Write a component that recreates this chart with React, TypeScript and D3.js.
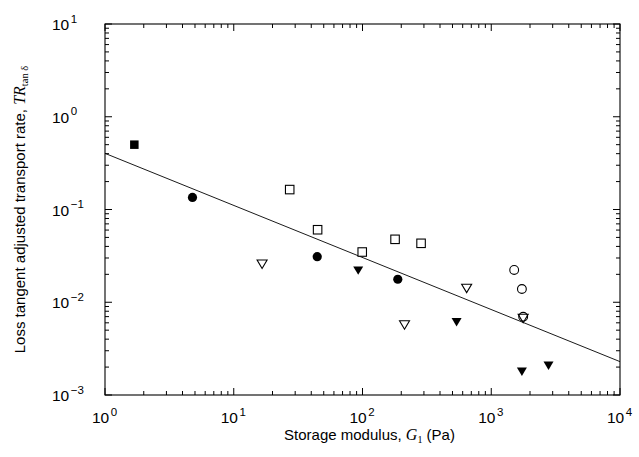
import React from "react";
import * as d3 from "d3";

// ---- data ----
const filledSquareG = [1.69];
const filledSquareTR = [0.5];
const filledCircleG = [4.78, 44.5, 188];
const filledCircleTR = [0.135, 0.031, 0.0177];
const openSquareG = [27.2, 44.8, 99.5, 179, 285];
const openSquareTR = [0.164, 0.0605, 0.0348, 0.0477, 0.0432];
const openTriangleG = [16.6, 212, 644, 1770];
const openTriangleTR = [0.0257, 0.00569, 0.0141, 0.00668];
const filledTriangleG = [92.6, 538, 1730, 2785];
const filledTriangleTR = [0.0219, 0.00608, 0.00178, 0.00207];
const openCircleG = [1507, 1730, 1770];
const openCircleTR = [0.0223, 0.0139, 0.00698];
const fitG = [1, 10000];
const fitTR = [0.403, 0.00229];
const xDecades = [0, 1, 2, 3, 4];
const yDecades = [-3, -2, -1, 0, 1];

const W = 639;
const H = 457;
const left = 105;
const right = 620;
const top = 24;
const bottom = 395;

export default function App() {
  const x = d3.scaleLog().domain([1, 1e4]).range([left, right]);
  const y = d3.scaleLog().domain([1e-3, 1e1]).range([bottom, top]);

  const minorX: number[] = [];
  for (let d = 0; d < 4; d++) for (let k = 2; k <= 9; k++) minorX.push(k * Math.pow(10, d));
  const minorY: number[] = [];
  for (let d = -3; d < 1; d++) for (let k = 2; k <= 9; k++) minorY.push(k * Math.pow(10, d));

  const MAJ = 7;
  const MIN = 4;
  const line = d3
    .line<number>()
    .x((_, i) => x(fitG[i]))
    .y((v) => y(v));

  const sq = 8.5;
  const tri = (cx: number, cy: number) => {
    const w = 5;
    const h = 4.2;
    return `M${cx - w},${cy - h}L${cx + w},${cy - h}L${cx},${cy + h}Z`;
  };

  const sans = "'Liberation Sans', Arial, sans-serif";
  const serif = "'Liberation Serif', 'DejaVu Serif', serif";

  return (
    <svg width={W} height={H} style={{ position: "absolute", left: 0, top: 0, background: "#fff" }}>
      <rect x={0} y={0} width={W} height={H} fill="#fff" />
      {/* frame */}
      <rect x={left} y={top} width={right - left} height={bottom - top} fill="none" stroke="#000" strokeWidth={1.1} />
      {/* x ticks */}
      {xDecades.map((d) => {
        const px = x(Math.pow(10, d));
        return (
          <g key={"xM" + d}>
            <line x1={px} x2={px} y1={bottom} y2={bottom - MAJ} stroke="#000" />
            <line x1={px} x2={px} y1={top} y2={top + MAJ} stroke="#000" />
          </g>
        );
      })}
      {minorX.map((v, i) => {
        const px = x(v);
        return (
          <g key={"xm" + i}>
            <line x1={px} x2={px} y1={bottom} y2={bottom - MIN} stroke="#000" />
            <line x1={px} x2={px} y1={top} y2={top + MIN} stroke="#000" />
          </g>
        );
      })}
      {yDecades.map((d) => {
        const py = y(Math.pow(10, d));
        return (
          <g key={"yM" + d}>
            <line x1={left} x2={left + MAJ} y1={py} y2={py} stroke="#000" />
            <line x1={right} x2={right - MAJ} y1={py} y2={py} stroke="#000" />
          </g>
        );
      })}
      {minorY.map((v, i) => {
        const py = y(v);
        return (
          <g key={"ym" + i}>
            <line x1={left} x2={left + MIN} y1={py} y2={py} stroke="#000" />
            <line x1={right} x2={right - MIN} y1={py} y2={py} stroke="#000" />
          </g>
        );
      })}
      {/* tick labels */}
      {xDecades.map((d) => (
        <text key={"xl" + d} x={x(Math.pow(10, d)) - 13} y={423} textAnchor="start" fontFamily={sans} fontSize={15.5} fill="#000">
          10
          <tspan dx={1.5} dy={-7.5} fontSize={11.5}>{d}</tspan>
        </text>
      ))}
      {yDecades.map((d) => (
        <text key={"yl" + d} x={52} y={y(Math.pow(10, d)) + 6} textAnchor="start" fontFamily={sans} fontSize={15.5} fill="#000">
          10
          <tspan dx={1.5} dy={-7.5} fontSize={11.5}>{d < 0 ? "\u2212" + Math.abs(d) : String(d)}</tspan>
        </text>
      ))}
      {/* fit line */}
      <path d={line(fitTR) || ""} fill="none" stroke="#000" strokeWidth={0.9} />
      {/* markers */}
      {filledSquareG.map((g, i) => (
        <rect key={"fs" + i} x={x(g) - sq / 2} y={y(filledSquareTR[i]) - sq / 2} width={sq} height={sq} fill="#000" />
      ))}
      {openSquareG.map((g, i) => (
        <rect key={"os" + i} x={x(g) - sq / 2} y={y(openSquareTR[i]) - sq / 2} width={sq} height={sq} fill="#fff" stroke="#000" strokeWidth={1.1} />
      ))}
      {filledCircleG.map((g, i) => (
        <circle key={"fc" + i} cx={x(g)} cy={y(filledCircleTR[i])} r={4.6} fill="#000" />
      ))}
      {openCircleG.map((g, i) => (
        <circle key={"oc" + i} cx={x(g)} cy={y(openCircleTR[i])} r={4.4} fill="none" stroke="#000" strokeWidth={1.1} />
      ))}
      {openTriangleG.map((g, i) => (
        <path key={"ot" + i} d={tri(x(g), y(openTriangleTR[i]))} fill="none" stroke="#000" strokeWidth={1.1} />
      ))}
      {filledTriangleG.map((g, i) => (
        <path key={"ft" + i} d={tri(x(g), y(filledTriangleTR[i]))} fill="#000" />
      ))}
      {/* axis titles */}
      <text x={369.5} y={440} textAnchor="middle" fontFamily={sans} fontSize={15} fill="#000">
        Storage modulus,{" "}
        <tspan fontFamily={serif} fontStyle="italic" fontSize={16}>G</tspan>
        <tspan fontFamily={serif} fontSize={10} dy={3}>1</tspan>
        <tspan dy={-3}> (Pa)</tspan>
      </text>
      <text transform={`translate(25,${(top + bottom) / 2}) rotate(-90)`} textAnchor="middle" fontFamily={sans} fontSize={15} fill="#000">
        Loss tangent adjusted transport rate,{" "}
        <tspan fontFamily={serif} fontStyle="italic" fontSize={16}>TR</tspan>
        <tspan fontFamily={serif} fontSize={10.5} dy={3}>tan δ</tspan>
      </text>
    </svg>
  );
}
